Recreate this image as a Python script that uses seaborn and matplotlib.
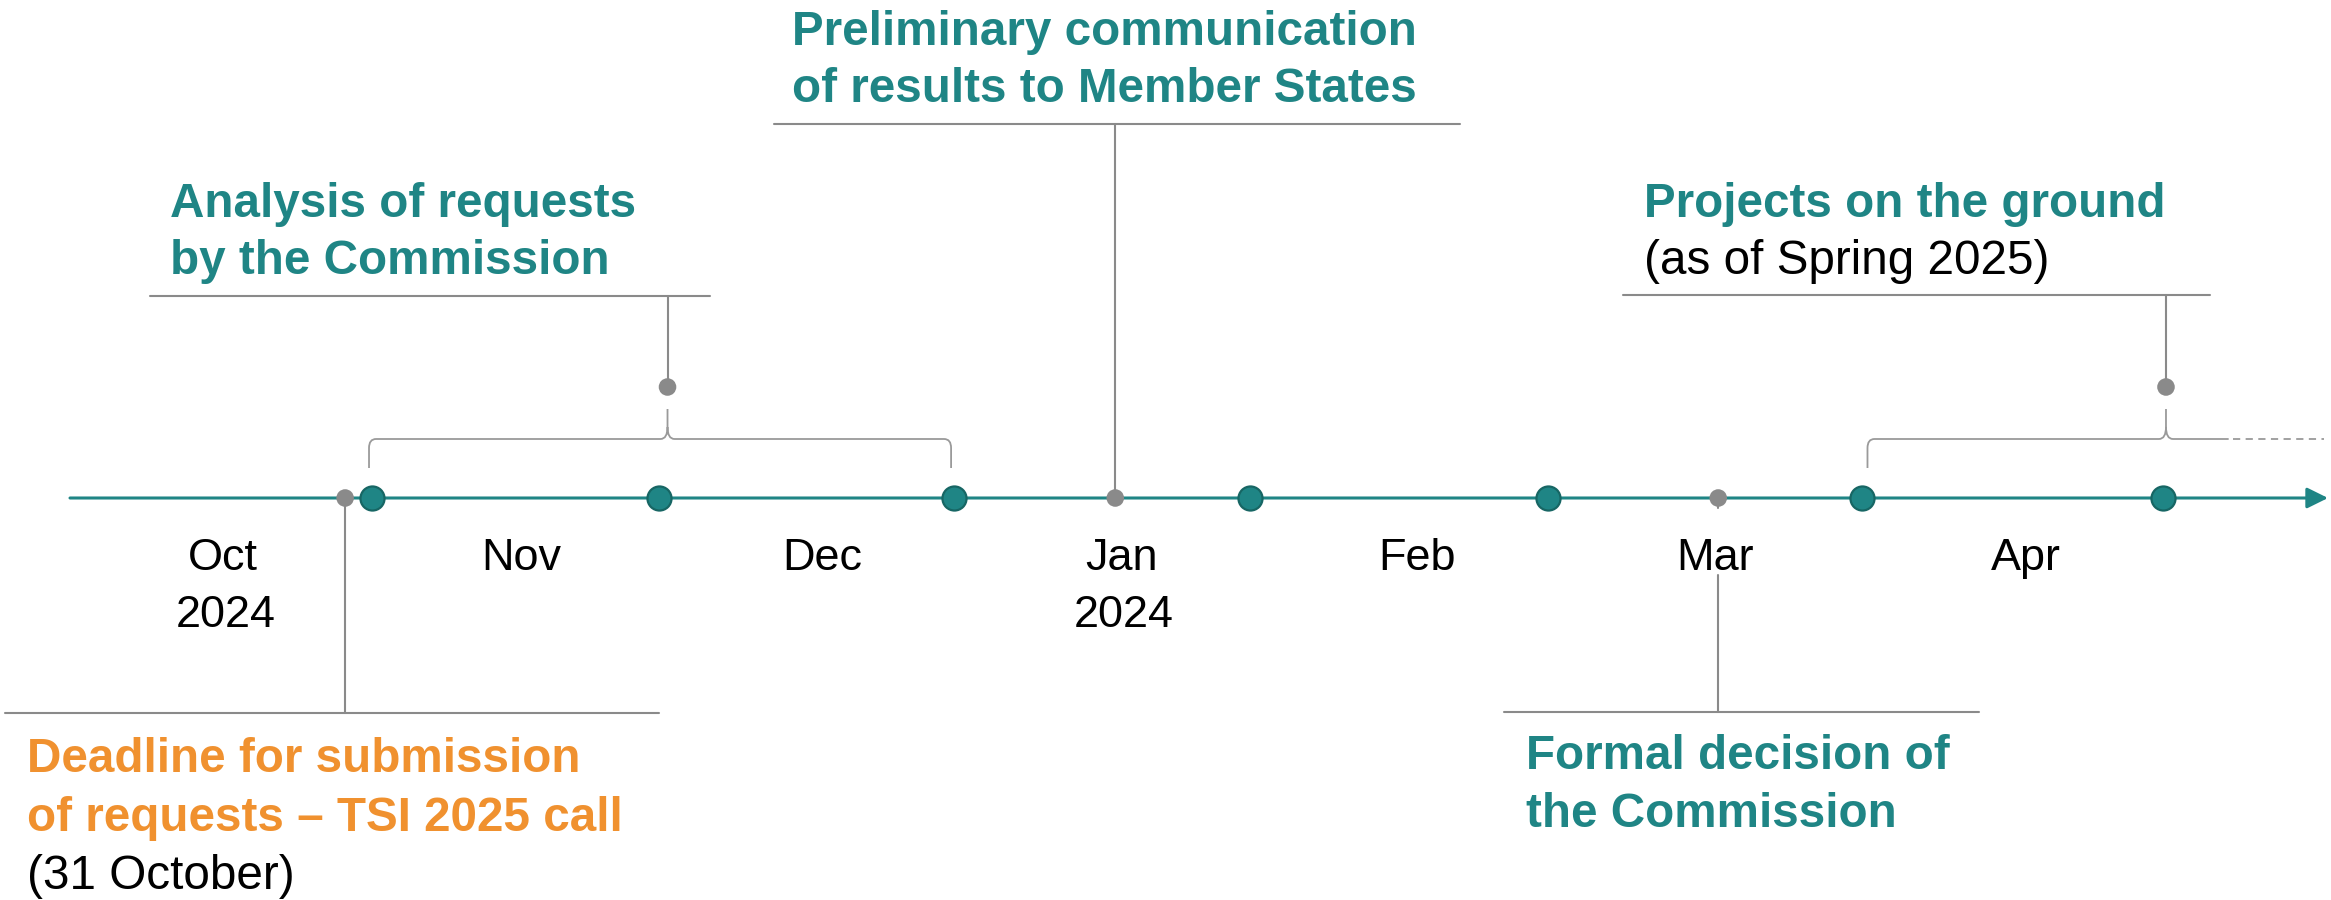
import numpy as np
import pandas as pd
import matplotlib
matplotlib.use("Agg")
import matplotlib.pyplot as plt
from matplotlib.path import Path
from matplotlib.patches import PathPatch
import seaborn as sns

# ---------------- data (x = months since 1 October 2024) ----------------
month_names = ["Oct", "Nov", "Dec", "Jan", "Feb", "Mar", "Apr"]
month_pos = [0.50, 1.50, 2.51, 3.51, 4.50, 5.50, 6.54]
year_names = ["2024", "", "", "2024", "", "", ""]
milestone_pos = [1.00, 1.96, 2.95, 3.94, 4.94, 5.99, 7.00]

# point events sitting on the time line
point_event_pos = [0.91, 3.49, 5.51]          # deadline, preliminary, formal decision
# period events (bracket start, bracket end, marker position)
analysis_span = [0.99, 2.94]
analysis_mark = 1.99
projects_span = [6.01, 7.22]                  # solid part, continues dotted
projects_open_end = 7.54
projects_mark = 7.01

# ---------------- style ----------------
sns.set_theme(style="white")
plt.rcParams["font.family"] = ["Liberation Sans", "DejaVu Sans"]

TEAL = "#1f8585"
TEAL_DARK = "#176664"
ORANGE = "#f0912f"
GREY = "#8a8a8a"
GREY_L = "#9a9a9a"

W, H = 2331, 900
X0, S = 73.5, 298.5                           # layout: pixel of 1 Oct, pixels per month


def mx(px):
    return (px - X0) / S


AXIS_Y = 498
TITLE_FS = 34.3
MONTH_FS = 32.4

fig = plt.figure(figsize=(W / 100, H / 100), dpi=100)
ax = fig.add_axes([0, 0, 1, 1])
ax.set_xlim(mx(0), mx(W))
ax.set_ylim(H, 0)
ax.axis("off")

# ---------------- time line with arrow ----------------
ax.annotate("", xy=(mx(2328), AXIS_Y), xytext=(mx(70), AXIS_Y),
            arrowprops=dict(arrowstyle="-|>,head_length=0.85,head_width=0.42",
                            mutation_scale=15, color=TEAL, lw=2.2,
                            shrinkA=0, shrinkB=0), zorder=2)

# ---------------- connectors and rules ----------------
lw_rule = 1.5
# deadline (below)
xd = point_event_pos[0]
ax.plot([xd, xd], [AXIS_Y, 713], color=GREY, lw=lw_rule, zorder=1)
ax.plot([mx(5), mx(659)], [713, 713], color=GREY, lw=lw_rule, zorder=1)
# preliminary (above)
xp = point_event_pos[1]
ax.plot([xp, xp], [124, AXIS_Y], color=GREY, lw=lw_rule, zorder=1)
ax.plot([mx(774), mx(1460)], [124, 124], color=GREY, lw=lw_rule, zorder=1)
# formal decision (below, interrupted by month label)
xf = point_event_pos[2]
ax.plot([xf, xf], [AXIS_Y, 508], color=GREY, lw=lw_rule, zorder=1)
ax.plot([xf, xf], [575, 712], color=GREY, lw=lw_rule, zorder=1)
ax.plot([mx(1504), mx(1979)], [712, 712], color=GREY, lw=lw_rule, zorder=1)
# analysis
ax.plot([analysis_mark, analysis_mark], [296, 387], color=GREY, lw=lw_rule, zorder=1)
ax.plot([mx(150), mx(710)], [296, 296], color=GREY, lw=lw_rule, zorder=1)
# projects
ax.plot([projects_mark, projects_mark], [295, 387], color=GREY, lw=lw_rule, zorder=1)
ax.plot([mx(1623), mx(2210)], [295, 295], color=GREY, lw=lw_rule, zorder=1)


def brace(xl, xc, xr, right_end=True, y_bar=439, y_end=468, y_tip=409):
    d = 7 / S
    verts, codes = [], []
    verts += [(xl, y_end), (xl, y_bar + 9), (xl, y_bar), (xl + d, y_bar)]
    codes += [Path.MOVETO, Path.LINETO, Path.CURVE3, Path.CURVE3]
    verts += [(xc - d, y_bar), (xc, y_bar), (xc, y_bar - 12), (xc, y_tip)]
    codes += [Path.LINETO, Path.CURVE3, Path.CURVE3, Path.LINETO]
    verts += [(xc, y_bar - 12), (xc, y_bar), (xc + d, y_bar)]
    codes += [Path.MOVETO, Path.CURVE3, Path.CURVE3]
    if right_end:
        verts += [(xr - d, y_bar), (xr, y_bar), (xr, y_bar + 9), (xr, y_end)]
        codes += [Path.LINETO, Path.CURVE3, Path.CURVE3, Path.LINETO]
    else:
        verts += [(xr, y_bar)]
        codes += [Path.LINETO]
    return Path(verts, codes)


ax.add_patch(PathPatch(brace(analysis_span[0], analysis_mark, analysis_span[1]),
                       fill=False, edgecolor=GREY_L, lw=1.3, zorder=1))
ax.add_patch(PathPatch(brace(projects_span[0], projects_mark, projects_span[1], right_end=False),
                       fill=False, edgecolor=GREY_L, lw=1.3, zorder=1))
ax.plot([projects_span[1] + 4 / S, projects_open_end], [439, 439], color=GREY_L,
        lw=1.3, linestyle=(0, (4, 3)), zorder=1)

# ---------------- markers ----------------
grey_df = pd.DataFrame({
    "x": point_event_pos + [analysis_mark, projects_mark],
    "y": [AXIS_Y] * len(point_event_pos) + [387, 387],
})
sns.scatterplot(data=grey_df, x="x", y="y", s=160, color=GREY, edgecolor="none",
                linewidth=0, zorder=4, ax=ax, legend=False)
mile_df = pd.DataFrame({"x": milestone_pos, "y": [AXIS_Y] * len(milestone_pos)})
sns.scatterplot(data=mile_df, x="x", y="y", s=300, color=TEAL, edgecolor=TEAL_DARK,
                linewidth=1.6, zorder=5, ax=ax, legend=False)
ax.set_xlim(mx(0), mx(W))
ax.set_ylim(H, 0)
ax.axis("off")

# ---------------- month labels ----------------
for name, pos, yr in zip(month_names, month_pos, year_names):
    ax.text(pos, 570, name, ha="center", va="baseline", fontsize=MONTH_FS, color="black")
    if yr:
        ax.text(pos + 0.01, 627, yr, ha="center", va="baseline", fontsize=MONTH_FS, color="black")

# ---------------- event texts ----------------
def lines(x_px, baselines, texts, colors, weights):
    for b, t, c, w in zip(baselines, texts, colors, weights):
        ax.text(mx(x_px), b, t, ha="left", va="baseline", fontsize=TITLE_FS,
                color=c, fontweight=w)


lines(792, [45, 102], ["Preliminary communication", "of results to Member States"],
      [TEAL, TEAL], ["bold", "bold"])
lines(170, [217, 274], ["Analysis of requests", "by the Commission"],
      [TEAL, TEAL], ["bold", "bold"])
lines(1644, [217, 274], ["Projects on the ground", "(as of Spring 2025)"],
      [TEAL, "black"], ["bold", "normal"])
lines(27, [772, 831, 889], ["Deadline for submission", "of requests \u2013 TSI 2025 call", "(31 October)"],
      [ORANGE, ORANGE, "black"], ["bold", "bold", "normal"])
lines(1526, [769, 827], ["Formal decision of", "the Commission"],
      [TEAL, TEAL], ["bold", "bold"])

fig.savefig("out.png", dpi=100, facecolor="white")
